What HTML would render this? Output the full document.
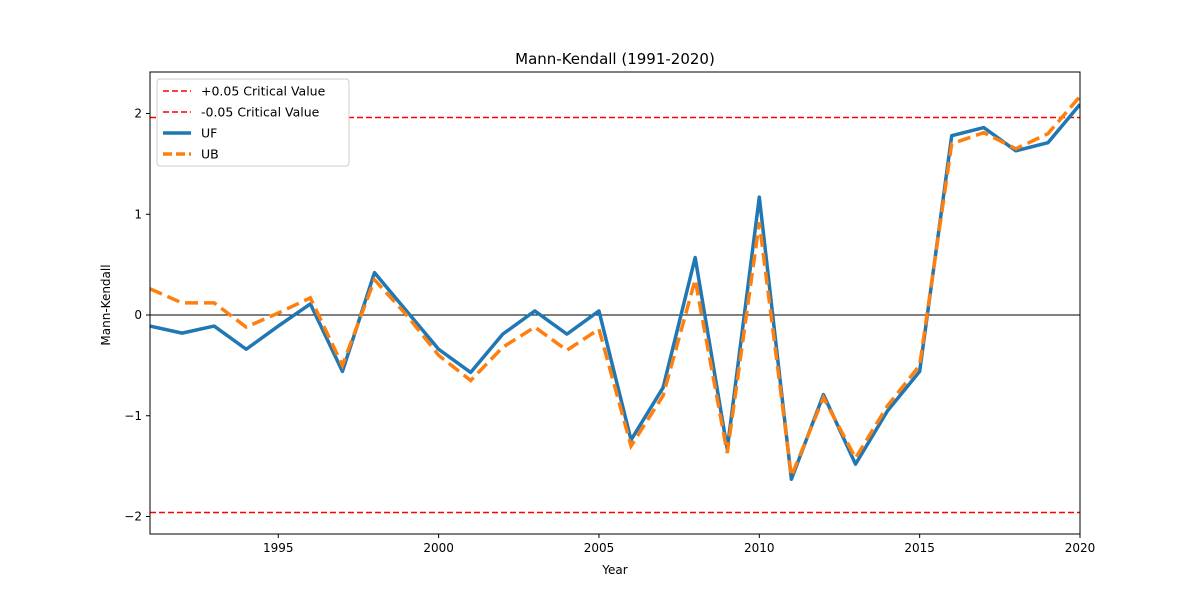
<!DOCTYPE html>
<html><head><meta charset="utf-8"><style>
body{margin:0;background:#fff;}
svg text{font-family:"DejaVu Sans","Liberation Sans",sans-serif;fill:#000;}
</style></head><body>
<svg id="chart" width="1200" height="600" xmlns="http://www.w3.org/2000/svg">
<rect width="1200" height="600" fill="#fff"/>
<g id="plot"></g>
</svg>
<script>
const years=[1991,1992,1993,1994,1995,1996,1997,1998,1999,2000,2001,2002,2003,2004,2005,2006,2007,2008,2009,2010,2011,2012,2013,2014,2015,2016,2017,2018,2019,2020];
const ufValues=[-0.11,-0.18,-0.11,-0.34,-0.11,0.11,-0.56,0.42,0.04,-0.34,-0.57,-0.19,0.04,-0.19,0.04,-1.24,-0.72,0.57,-1.33,1.17,-1.63,-0.79,-1.48,-0.95,-0.56,1.78,1.86,1.63,1.71,2.09];
const ubValues=[0.26,0.12,0.12,-0.12,0.02,0.17,-0.5,0.35,0,-0.4,-0.65,-0.32,-0.12,-0.35,-0.14,-1.3,-0.8,0.35,-1.37,0.92,-1.6,-0.82,-1.42,-0.9,-0.5,1.7,1.81,1.65,1.8,2.17];
const xTicks=[1995,2000,2005,2010,2015,2020];
const yTicks=[-2,-1,0,1,2];
const critical=1.96;
const L=150,R=1080,T=72,B=534;
const x=v=>L+(v-1991)/(2020-1991)*(R-L);
const y=v=>315-v*100.75;
const NS="http://www.w3.org/2000/svg";
const g=document.getElementById('plot');
function mk(tag,attrs,name){const e=document.createElementNS(NS,tag);for(const k in attrs)e.setAttribute(k,attrs[k]);


g.appendChild(e);return e;}
function txt(s,attrs,name){const e=mk('text',attrs,name);e.textContent=s;return e;}
mk('clipPath',{id:'clip'},'clip').innerHTML='<rect x="150" y="72" width="930" height="462"/>';
mk('line',{x1:L,x2:R,y1:y(0),y2:y(0),stroke:'#000','stroke-width':1},'zero-line');
mk('line',{x1:L,x2:R,y1:y(critical),y2:y(critical),stroke:'#f00','stroke-width':1.5,'stroke-dasharray':'6,3'},'upper-critical-line');
mk('line',{x1:L,x2:R,y1:y(-critical),y2:y(-critical),stroke:'#f00','stroke-width':1.5,'stroke-dasharray':'6,3'},'lower-critical-line');
mk('polyline',{points:years.map((d,i)=>x(d)+','+y(ufValues[i])).join(' '),fill:'none',stroke:'#1f77b4','stroke-width':3.5,'clip-path':'url(#clip)','stroke-linejoin':'round'},'uf-line');
mk('polyline',{points:years.map((d,i)=>x(d)+','+y(ubValues[i])).join(' '),fill:'none',stroke:'#ff7f0e','stroke-width':3.5,'stroke-dasharray':'13,6','clip-path':'url(#clip)'},'ub-line');
mk('rect',{x:L,y:T,width:R-L,height:B-T,fill:'none',stroke:'#000','stroke-width':1},'plot-frame');
xTicks.forEach(t=>{mk('line',{x1:x(t),x2:x(t),y1:B,y2:B+4,stroke:'#000'},'x-tick');
txt(String(t),{x:x(t),y:B+18,'text-anchor':'middle','font-size':12},'x-tick-label');});
yTicks.forEach(t=>{mk('line',{x1:L-4,x2:L,y1:y(t),y2:y(t),stroke:'#000'},'y-tick');
txt(t<0?'\u2212'+(-t):String(t),{x:L-8,y:y(t)+4,'text-anchor':'end','font-size':12},'y-tick-label');});
txt('Mann-Kendall (1991-2020)',{x:615,y:64,'text-anchor':'middle','font-size':15},'chart-title');
txt('Year',{x:615,y:574,'text-anchor':'middle','font-size':12},'x-axis-title');
txt('Mann-Kendall',{x:110,y:305,'text-anchor':'middle','font-size':12,transform:'rotate(-90 110 305)'},'y-axis-title');
mk('rect',{x:157,y:79,width:192,height:87,fill:'#fff',stroke:'#ccc',rx:3},'legend');
const leg=[['+0.05 Critical Value','#f00','6,3',1.5],['-0.05 Critical Value','#f00','6,3',1.5],['UF','#1f77b4','',3.5],['UB','#ff7f0e','9,4',3.5]];
leg.forEach((l,i)=>{const yy=91+i*21;
mk('line',{x1:163,x2:191,y1:yy,y2:yy,stroke:l[1],'stroke-width':l[3],'stroke-dasharray':l[2]},'legend-swatch');
txt(l[0],{x:201,y:yy+4.5,'font-size':12.5},'legend-entry');});
</script>
</body></html>
